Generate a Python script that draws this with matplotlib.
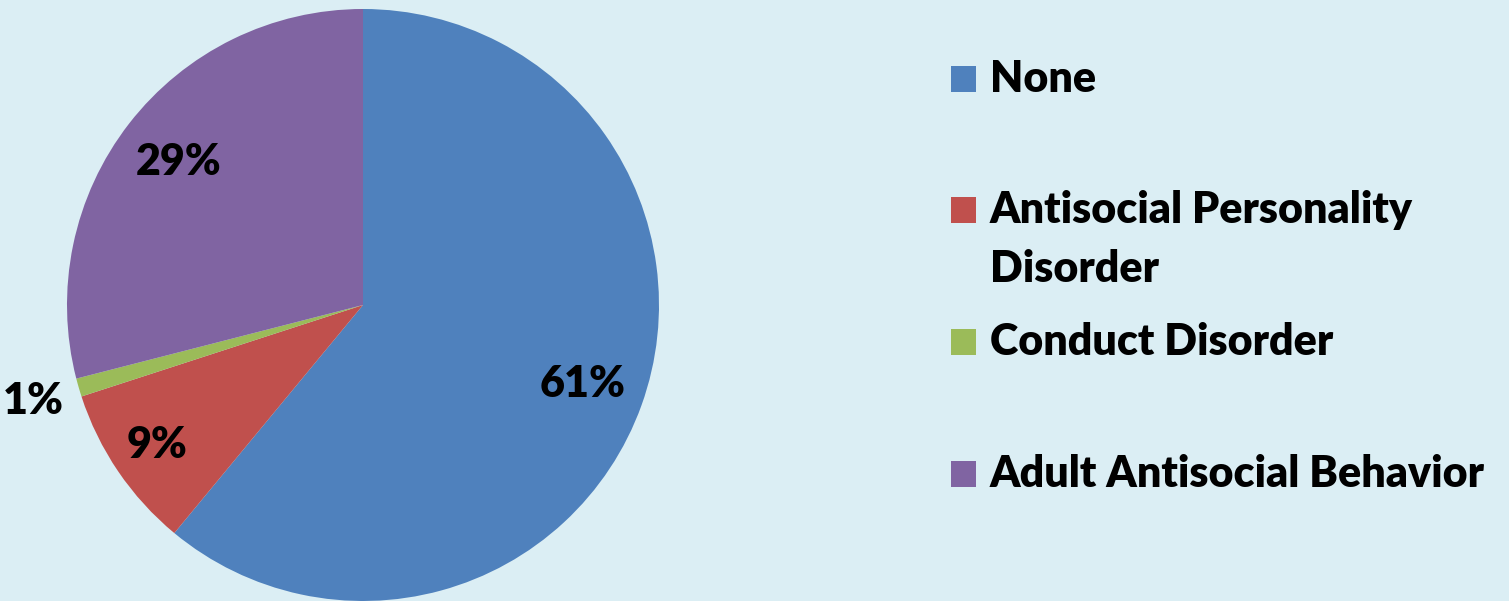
import numpy as np
import matplotlib
matplotlib.use("Agg")
import matplotlib.pyplot as plt
from matplotlib.patches import Rectangle

categories = ["None", "Antisocial Personality\nDisorder", "Conduct Disorder",
              "Adult Antisocial Behavior"]
shares = [61, 9, 1, 29]
pct_labels = ["61%", "9%", "1%", "29%"]
colors = ["#4F81BD", "#C0504D", "#9BBB59", "#8064A2"]
label_radius = [0.79, 0.84, 1.16, 0.79]

bg = "#DBEEF4"
font = "Lato"
fs = 31

W, H = 1509, 601
fig = plt.figure(figsize=(W / 100, H / 100), dpi=100, facecolor=bg)

cx, cy, r = 363, 305, 296
ax = fig.add_axes([(cx - r) / W, (H - cy - r) / H, 2 * r / W, 2 * r / H])
ax.set_facecolor(bg)
wedges, _ = ax.pie(shares, colors=colors, startangle=90, counterclock=False,
                   radius=1.0, wedgeprops=dict(linewidth=0))
ax.set_xlim(-1, 1)
ax.set_ylim(-1, 1)
ax.set_aspect("equal")
ax.axis("off")
for w in wedges:
    w.set_clip_on(False)

for w, lab, rr in zip(wedges, pct_labels, label_radius):
    mid = np.deg2rad((w.theta1 + w.theta2) / 2)
    ax.text(rr * np.cos(mid), rr * np.sin(mid), lab, ha="center", va="center",
            fontsize=fs, fontweight="heavy", family=font, color="black")

# legend
baselines = [92, 223, 355, 487]
for name, col, base in zip(categories, colors, baselines):
    fig.patches.append(Rectangle((951 / W, (H - base) / H), 25 / W, 26 / H,
                                 transform=fig.transFigure, facecolor=col,
                                 edgecolor="none"))
    lines = name.split("\n")
    for i, line in enumerate(lines):
        fig.text(990 / W, (H - base - 59 * i) / H, line, ha="left",
                 va="baseline", fontsize=fs, fontweight="heavy", family=font)

fig.savefig("out.png", dpi=100, facecolor=bg)
